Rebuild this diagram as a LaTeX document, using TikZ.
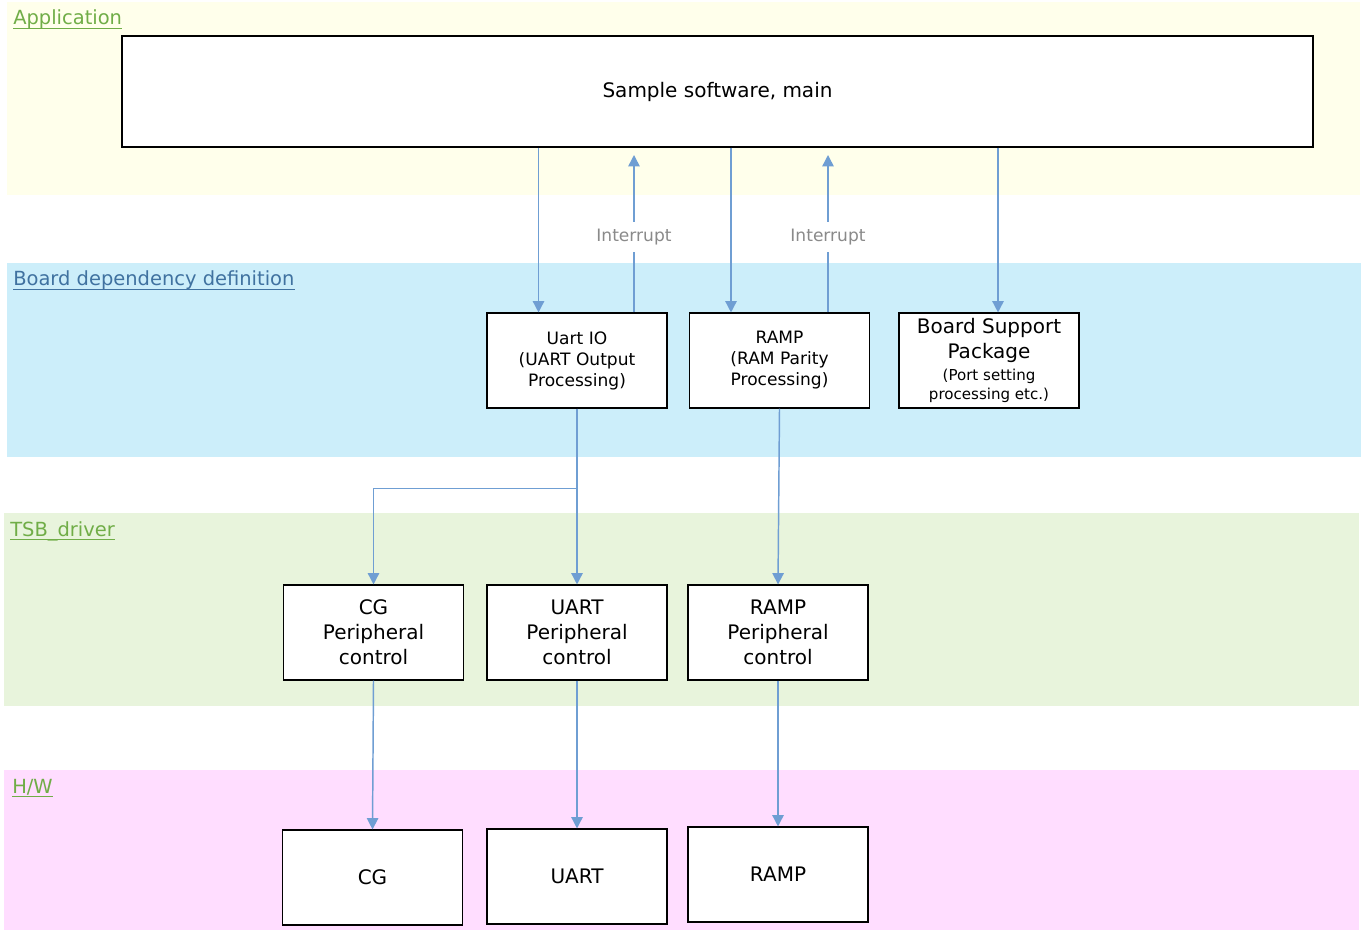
\documentclass[tikz,border=0pt]{standalone}
\usepackage{fontspec}
\setmainfont{DejaVu Sans}
\usetikzlibrary{arrows.meta,calc}
\definecolor{appbg}{HTML}{FFFFEB}
\definecolor{bdbg}{HTML}{CCEEFA}
\definecolor{tsbbg}{HTML}{E8F4DC}
\definecolor{hwbg}{HTML}{FFDDFF}
\definecolor{lgreen}{HTML}{70AD47}
\definecolor{lblue}{HTML}{4072A0}
\definecolor{arrc}{HTML}{6F9ED3}
\definecolor{intc}{HTML}{8A8A8A}
\newcommand{\bigf}{\fontsize{15}{18.75}\selectfont}
\newcommand{\midf}{\fontsize{12.8}{15.75}\selectfont}
\newcommand{\smlf}{\fontsize{11.3}{14.25}\selectfont}
\tikzset{
  band/.style={draw=none},
  blabel/.style={anchor=base west, inner sep=0pt, font=\fontsize{14.6}{17}\selectfont},
  ul/.style={line width=0.9pt},
  boxnode/.style={draw=black, line width=0.8pt, fill=white, align=center,
    minimum width=135pt, minimum height=71.25pt, inner sep=1pt},
  arr/.style={draw=arrc, line width=1.1pt, -{Triangle[width=8.5pt,length=8.5pt]}},
  intlbl/.style={fill=white, text=intc, font=\fontsize{12.8}{15}\selectfont, inner xsep=1pt, inner ysep=5.5pt}
}
\begin{document}
\begin{tikzpicture}[x=0.75pt,y=-0.75pt]
\useasboundingbox (0,0) rectangle (1369,930);
\fill[white] (0,0) rectangle (1369,930);
% bands
\fill[appbg] (7,2) rectangle (1360,195);
\fill[bdbg] (7,263) rectangle (1361,457);
\fill[tsbbg] (4,513) rectangle (1359,706);
\fill[hwbg] (4,770) rectangle (1359,930);
% band labels
\node[blabel, text=lgreen] (lapp) at (13,25) {Application};
\draw[ul, lgreen] ($(lapp.base west)+(0,3.5)$) -- ($(lapp.base east)+(0,3.5)$);
\node[blabel, text=lblue] (lbd) at (13,286) {Board dependency definition};
\draw[ul, lblue] ($(lbd.base west)+(0,3.5)$) -- ($(lbd.base east)+(0,3.5)$);
\node[blabel, text=lgreen] (ltsb) at (10,536) {TSB\_driver};
\draw[ul, lgreen] ($(ltsb.base west)+(0,3.5)$) -- ($(ltsb.base east)+(0,3.5)$);
\node[blabel, text=lgreen] (lhw) at (12,793) {H/W};
\draw[ul, lgreen] ($(lhw.base west)+(0,3.5)$) -- ($(lhw.base east)+(0,3.5)$);
% boxes
\node[boxnode, minimum width=893.25pt, minimum height=83.25pt, font=\bigf] (main) at (717.5,91.5) {Sample software, main};
\node[boxnode, font=\midf] (uartio) at (577,360.5) {Uart IO\\(UART Output\\Processing)};
\node[boxnode, font=\midf] (rampbd) at (779.5,360.5) {RAMP\\(RAM Parity\\Processing)};
\node[boxnode, font=\bigf] (bsp) at (989,360.5) {Board Support\\Package\\[-2.5pt]{\smlf (Port setting}\\[-4.5pt]{\smlf processing etc.)}};
\node[boxnode, font=\bigf] (cgp) at (373.5,632.5) {CG\\Peripheral\\control};
\node[boxnode, font=\bigf] (uartp) at (577,632.5) {UART\\Peripheral\\control};
\node[boxnode, font=\bigf] (rampp) at (778,632.5) {RAMP\\Peripheral\\control};
\node[boxnode, font=\bigf] (cg) at (372.5,877.5) {CG};
\node[boxnode, font=\bigf] (uart) at (577,876.5) {UART};
\node[boxnode, font=\bigf] (ramph) at (778,874.5) {RAMP};
% helper coordinates
\coordinate (xa) at (538.5,0);
\coordinate (xb) at (634,0);
\coordinate (xc) at (731,0);
\coordinate (xd) at (828,0);
\coordinate (xe) at (998,0);
\coordinate (tipb) at (634,155);
\coordinate (tipd) at (828,155);
% connectors
\draw[arr] (main.south -| xa) -- (uartio.north -| xa);
\draw[arr] (uartio.north -| xb) -- (tipb);
\draw[arr] (main.south -| xc) -- (rampbd.north -| xc);
\draw[arr] (rampbd.north -| xd) -- (tipd);
\draw[arr] (main.south -| xe) -- (bsp.north -| xe);
\node[intlbl] (int1) at (634,237) {Interrupt};
\node[intlbl] (int2) at (828,237) {Interrupt};
\draw[arr] (uartio.south) -- (uartp.north);
\draw[arr] (uartio.south) -- ++(0,80) -| (cgp.north);
\draw[arr] (rampbd.south) -- (rampp.north);
\draw[arr] (cgp.south) -- (cg.north);
\draw[arr] (uartp.south) -- (uart.north);
\draw[arr] (rampp.south) -- (ramph.north);
\end{tikzpicture}
\end{document}
